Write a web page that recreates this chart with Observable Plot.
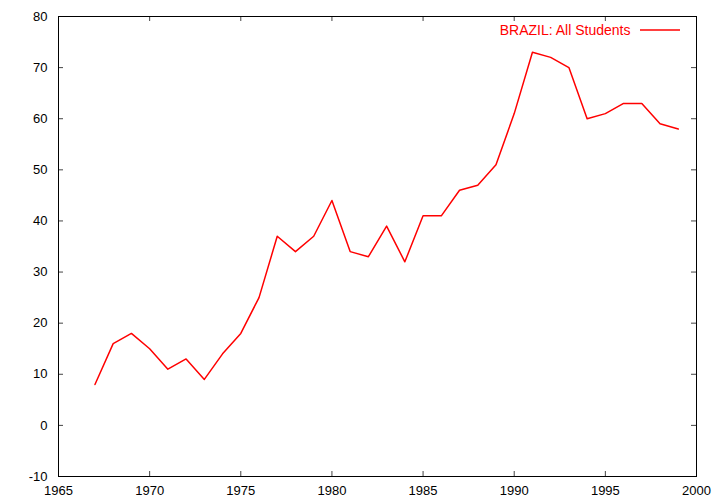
<!DOCTYPE html>
<html><head><meta charset="utf-8">
<script src="https://cdn.jsdelivr.net/npm/d3@7"></script>
<script src="https://cdn.jsdelivr.net/npm/@observablehq/plot@0.6"></script>
<style>body{margin:0;background:#fff}#chart{position:relative;width:720px;height:504px}</style>
</head><body><div id="chart"></div>
<script>
const years = [1967,1968,1969,1970,1971,1972,1973,1974,1975,1976,1977,1978,1979,1980,1981,1982,1983,1984,1985,1986,1987,1988,1989,1990,1991,1992,1993,1994,1995,1996,1997,1998,1999];
const values = [8,16,18,15,11,13,9,14,18,25,37,34,37,44,34,33,39,32,41,41,46,47,51,61,73,72,70,60,61,63,63,59,58];
const seriesLabel = "BRAZIL: All Students";
const xTicks = [1965,1970,1975,1980,1985,1990,1995,2000];
const yTicks = [-10,0,10,20,30,40,50,60,70,80];

const data = years.map((y,i)=>({year:y, value:values[i]}));
const W=720,H=504,mL=58,mR=24,mT=16,mB=28;
const ph=H-mT-mB, pw=W-mL-mR, tl=5;
const axisColor="#444";
const font="'Liberation Sans', Arial, sans-serif";

const chart = Plot.plot({
  width:W, height:H, marginLeft:mL, marginRight:mR, marginTop:mT, marginBottom:mB,
  style:{fontFamily:font, fontSize:"13px", color:"#000", background:"#fff"},
  x:{domain:[1965,2000], label:null},
  y:{domain:[-10,80], label:null},
  marks:[
    Plot.axisX(xTicks,{tickSize:0, tickPadding:9, tickFormat:d=>String(d), label:null, fill:"#000", fontSize:13}),
    Plot.axisY(yTicks,{tickSize:0, tickPadding:11, tickFormat:d=>String(d), label:null, fill:"#000", fontSize:13}),
    Plot.ruleX(xTicks,{x:d=>d, insetTop:ph-tl, stroke:axisColor}),
    Plot.ruleX(xTicks,{x:d=>d, insetBottom:ph-tl, stroke:axisColor}),
    Plot.ruleY(yTicks,{y:d=>d, insetRight:pw-tl, stroke:axisColor}),
    Plot.ruleY(yTicks,{y:d=>d, insetLeft:pw-tl, stroke:axisColor}),
    Plot.frame({stroke:"#000"}),
    Plot.line(data,{x:"year", y:"value", stroke:"#ff0000", strokeWidth:1.5}),
    Plot.text([seriesLabel],{text:d=>d, frameAnchor:"top-right", textAnchor:"end", lineAnchor:"middle", dx:-66, dy:14, fill:"#ff0000", fontSize:14})
  ]
});
const svg = d3.select(chart);
svg.append("line").attr("x1",W-mR-56).attr("x2",W-mR-16).attr("y1",mT+14).attr("y2",mT+14)
  .attr("stroke","#ff0000").attr("stroke-width",1.5);
document.getElementById("chart").appendChild(chart);
</script></body></html>
